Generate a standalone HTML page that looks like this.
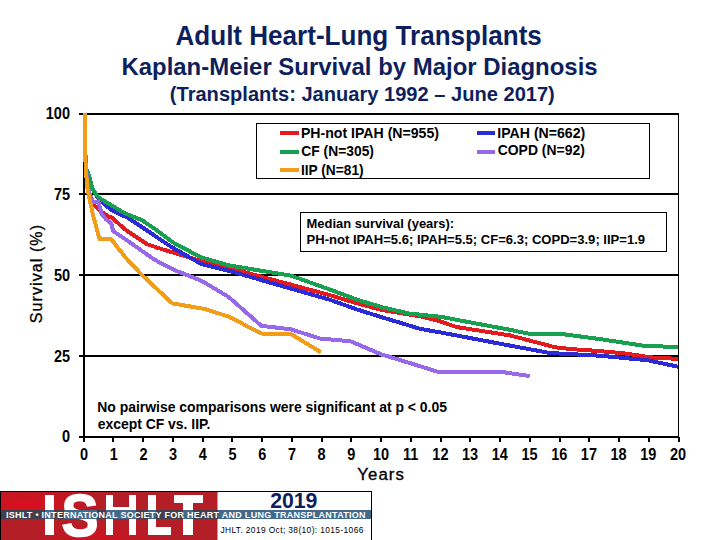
<!DOCTYPE html>
<html><head><meta charset="utf-8">
<style>
html,body{margin:0;padding:0;background:#fff;}
body{width:720px;height:540px;position:relative;overflow:hidden;font-family:"Liberation Sans",sans-serif;}
.t{position:absolute;white-space:nowrap;line-height:1;}
svg{position:absolute;left:0;top:0;font-family:"Liberation Sans",sans-serif;}
</style></head><body>
<svg width="720" height="540" viewBox="0 0 720 540">
<g fill="#000" shape-rendering="crispEdges">
<rect x="79" y="113" width="599" height="2"/>
<rect x="79" y="193" width="599" height="2"/>
<rect x="79" y="274" width="599" height="2"/>
<rect x="79" y="355" width="599" height="2"/>
<rect x="79" y="436" width="600" height="2"/>
<rect x="83" y="113" width="2" height="325"/>
<rect x="678" y="113" width="1" height="325"/>
<rect x="83" y="437" width="2" height="5"/>
<rect x="112" y="437" width="2" height="5"/>
<rect x="142" y="437" width="2" height="5"/>
<rect x="172" y="437" width="2" height="5"/>
<rect x="202" y="437" width="2" height="5"/>
<rect x="231" y="437" width="2" height="5"/>
<rect x="261" y="437" width="2" height="5"/>
<rect x="291" y="437" width="2" height="5"/>
<rect x="321" y="437" width="2" height="5"/>
<rect x="350" y="437" width="2" height="5"/>
<rect x="380" y="437" width="2" height="5"/>
<rect x="410" y="437" width="2" height="5"/>
<rect x="440" y="437" width="2" height="5"/>
<rect x="469" y="437" width="2" height="5"/>
<rect x="499" y="437" width="2" height="5"/>
<rect x="529" y="437" width="2" height="5"/>
<rect x="559" y="437" width="2" height="5"/>
<rect x="588" y="437" width="2" height="5"/>
<rect x="618" y="437" width="2" height="5"/>
<rect x="648" y="437" width="2" height="5"/>
<rect x="678" y="437" width="2" height="5"/>
</g>
<rect x="256.5" y="123.5" width="393" height="55" fill="#fff" stroke="#000" stroke-width="1"/>
<rect x="280" y="131" width="19" height="4" fill="#e41b1e"/>
<rect x="280" y="150" width="19" height="4" fill="#16a04f"/>
<rect x="280" y="168" width="19" height="4" fill="#f39c17"/>
<rect x="477" y="131" width="18" height="4" fill="#2b2bd8"/>
<rect x="477" y="150" width="18" height="4" fill="#9768ea"/>
<rect x="300.5" y="212.5" width="366" height="39" fill="#fff" stroke="#000" stroke-width="1"/>
<g shape-rendering="crispEdges">
<polyline fill="none" stroke="#e41b1e" stroke-width="4" stroke-linejoin="round" points="84.7,113.7 85.3,150.0 86.1,168.0 86.6,180.0 88.8,195.0 91.5,202.5 94.3,205.2 98.7,209.6 104.7,214.0 107.8,216.1 112.2,217.8 123.4,228.0 127.4,231.1 146.7,244.0 158.5,248.1 177.0,253.7 201.1,261.1 230.0,268.3 330.0,295.2 357.0,303.3 381.1,309.8 420.0,316.3 437.8,320.6 456.3,327.0 510.0,335.4 555.6,347.4 574.0,349.3 600.0,351.1 627.0,353.7 651.1,357.4 678.0,358.9"/>
<polyline fill="none" stroke="#2b2bd8" stroke-width="4" stroke-linejoin="round" points="84.7,113.7 85.3,150.0 86.1,168.0 89.1,176.0 91.5,186.0 94.5,193.0 98.0,197.5 102.5,202.0 110.9,209.9 127.8,217.8 142.6,227.5 160.0,239.3 173.3,248.1 201.1,263.9 230.0,271.1 330.0,299.8 357.0,309.5 381.1,317.0 420.0,328.8 441.5,332.6 510.0,345.6 550.0,353.0 600.0,355.7 647.4,360.2 678.0,366.7"/>
<polyline fill="none" stroke="#16a04f" stroke-width="4" stroke-linejoin="round" points="84.7,113.7 85.3,150.0 86.1,168.0 88.8,175.0 91.0,183.0 93.0,190.0 98.0,197.0 108.0,203.4 112.0,205.5 123.0,212.4 142.5,220.5 158.5,231.5 173.3,242.6 201.1,257.4 230.0,265.6 291.1,275.7 330.0,289.6 357.0,299.6 381.1,307.0 408.9,313.5 441.5,316.9 474.8,323.3 510.0,329.8 527.8,333.5 564.8,334.4 600.0,339.1 647.4,346.3 678.0,346.7"/>
<polyline fill="none" stroke="#9768ea" stroke-width="4" stroke-linejoin="round" points="84.7,113.7 85.3,150.0 86.1,168.0 87.3,182.0 89.0,192.0 91.5,198.0 92.5,202.2 98.5,202.2 101.7,214.0 105.6,218.9 111.1,223.3 113.3,231.1 130.8,243.0 154.5,259.7 173.3,269.6 202.0,281.0 228.9,297.2 261.3,325.8 291.1,329.4 320.0,338.5 350.6,341.3 381.1,354.3 410.0,363.1 436.9,371.5 498.9,371.5 529.6,376.1"/>
<polyline fill="none" stroke="#f39c17" stroke-width="4" stroke-linejoin="round" points="84.7,113.0 85.0,150.0 85.8,169.6 87.6,190.0 93.0,215.0 99.5,238.9 111.0,238.9 125.0,257.0 142.0,275.0 172.3,303.4 204.3,308.9 228.9,316.7 261.3,333.5 291.1,334.1 321.0,352.3"/>
</g>
<text x="0" y="0" text-anchor="end" font-size="14.5" font-weight="bold" fill="#000" transform="translate(70,119.30) scale(1,1.08)">100</text>
<text x="0" y="0" text-anchor="end" font-size="14.5" font-weight="bold" fill="#000" transform="translate(70,199.60) scale(1,1.08)">75</text>
<text x="0" y="0" text-anchor="end" font-size="14.5" font-weight="bold" fill="#000" transform="translate(70,280.60) scale(1,1.08)">50</text>
<text x="0" y="0" text-anchor="end" font-size="14.5" font-weight="bold" fill="#000" transform="translate(70,361.60) scale(1,1.08)">25</text>
<text x="0" y="0" text-anchor="end" font-size="14.5" font-weight="bold" fill="#000" transform="translate(70,442.30) scale(1,1.08)">0</text>
<text x="0" y="0" text-anchor="middle" font-size="14.5" font-weight="bold" fill="#000" transform="translate(84.00,460.0) scale(1,1.08)">0</text>
<text x="0" y="0" text-anchor="middle" font-size="14.5" font-weight="bold" fill="#000" transform="translate(113.70,460.0) scale(1,1.08)">1</text>
<text x="0" y="0" text-anchor="middle" font-size="14.5" font-weight="bold" fill="#000" transform="translate(143.40,460.0) scale(1,1.08)">2</text>
<text x="0" y="0" text-anchor="middle" font-size="14.5" font-weight="bold" fill="#000" transform="translate(173.10,460.0) scale(1,1.08)">3</text>
<text x="0" y="0" text-anchor="middle" font-size="14.5" font-weight="bold" fill="#000" transform="translate(202.80,460.0) scale(1,1.08)">4</text>
<text x="0" y="0" text-anchor="middle" font-size="14.5" font-weight="bold" fill="#000" transform="translate(232.50,460.0) scale(1,1.08)">5</text>
<text x="0" y="0" text-anchor="middle" font-size="14.5" font-weight="bold" fill="#000" transform="translate(262.20,460.0) scale(1,1.08)">6</text>
<text x="0" y="0" text-anchor="middle" font-size="14.5" font-weight="bold" fill="#000" transform="translate(291.90,460.0) scale(1,1.08)">7</text>
<text x="0" y="0" text-anchor="middle" font-size="14.5" font-weight="bold" fill="#000" transform="translate(321.60,460.0) scale(1,1.08)">8</text>
<text x="0" y="0" text-anchor="middle" font-size="14.5" font-weight="bold" fill="#000" transform="translate(351.30,460.0) scale(1,1.08)">9</text>
<text x="0" y="0" text-anchor="middle" font-size="14.5" font-weight="bold" fill="#000" transform="translate(381.00,460.0) scale(1,1.08)">10</text>
<text x="0" y="0" text-anchor="middle" font-size="14.5" font-weight="bold" fill="#000" transform="translate(410.70,460.0) scale(1,1.08)">11</text>
<text x="0" y="0" text-anchor="middle" font-size="14.5" font-weight="bold" fill="#000" transform="translate(440.40,460.0) scale(1,1.08)">12</text>
<text x="0" y="0" text-anchor="middle" font-size="14.5" font-weight="bold" fill="#000" transform="translate(470.10,460.0) scale(1,1.08)">13</text>
<text x="0" y="0" text-anchor="middle" font-size="14.5" font-weight="bold" fill="#000" transform="translate(499.80,460.0) scale(1,1.08)">14</text>
<text x="0" y="0" text-anchor="middle" font-size="14.5" font-weight="bold" fill="#000" transform="translate(529.50,460.0) scale(1,1.08)">15</text>
<text x="0" y="0" text-anchor="middle" font-size="14.5" font-weight="bold" fill="#000" transform="translate(559.20,460.0) scale(1,1.08)">16</text>
<text x="0" y="0" text-anchor="middle" font-size="14.5" font-weight="bold" fill="#000" transform="translate(588.90,460.0) scale(1,1.08)">17</text>
<text x="0" y="0" text-anchor="middle" font-size="14.5" font-weight="bold" fill="#000" transform="translate(618.60,460.0) scale(1,1.08)">18</text>
<text x="0" y="0" text-anchor="middle" font-size="14.5" font-weight="bold" fill="#000" transform="translate(648.30,460.0) scale(1,1.08)">19</text>
<text x="0" y="0" text-anchor="middle" font-size="14.5" font-weight="bold" fill="#000" transform="translate(678.00,460.0) scale(1,1.08)">20</text>
<text transform="translate(42.2,273.6) rotate(-90)" text-anchor="middle" font-size="16" letter-spacing="1.1" fill="#000" stroke="#000" stroke-width="0.3">Survival (%)</text>
</svg>
<div class="t" style="left:175.47px;top:22.59px;font-size:26.07px;letter-spacing:0.000px;font-weight:bold;color:#0d1f5c;transform:scaleY(1.028);transform-origin:0 22.16px;">Adult Heart-Lung Transplants</div>
<div class="t" style="left:121.42px;top:55.25px;font-size:23.94px;letter-spacing:0.000px;font-weight:bold;color:#0d1f5c;transform:scaleY(1.023);transform-origin:0 20.35px;">Kaplan-Meier Survival by Major Diagnosis</div>
<div class="t" style="left:169.80px;top:83.73px;font-size:20.08px;letter-spacing:0.000px;font-weight:bold;color:#0d1f5c;">(Transplants: January 1992 – June 2017)</div>
<div class="t" style="left:300.91px;top:125.61px;font-size:14.11px;letter-spacing:0.000px;font-weight:bold;color:#000;">PH-not IPAH (N=955)</div>
<div class="t" style="left:301.35px;top:144.64px;font-size:13.84px;letter-spacing:0.000px;font-weight:bold;color:#000;">CF (N=305)</div>
<div class="t" style="left:300.94px;top:163.93px;font-size:13.73px;letter-spacing:0.000px;font-weight:bold;color:#000;">IIP (N=81)</div>
<div class="t" style="left:497.31px;top:125.89px;font-size:14.12px;letter-spacing:0.000px;font-weight:bold;color:#000;">IPAH (N=662)</div>
<div class="t" style="left:497.74px;top:144.46px;font-size:13.93px;letter-spacing:0.000px;font-weight:bold;color:#000;">COPD (N=92)</div>
<div class="t" style="left:306.59px;top:217.74px;font-size:12.96px;letter-spacing:0.000px;font-weight:bold;color:#000;">Median survival (years):</div>
<div class="t" style="left:306.59px;top:232.65px;font-size:13.06px;letter-spacing:0.000px;font-weight:bold;color:#000;">PH-not IPAH=5.6; IPAH=5.5; CF=6.3; COPD=3.9; IIP=1.9</div>
<div class="t" style="left:97.22px;top:400.95px;font-size:13.95px;letter-spacing:0.000px;font-weight:bold;color:#000;">No pairwise comparisons were significant at p &lt; 0.05</div>
<div class="t" style="left:97.64px;top:417.64px;font-size:13.95px;letter-spacing:0.000px;font-weight:bold;color:#000;">except CF vs. IIP.</div>
<div class="t" style="left:357.30px;top:466.72px;font-size:16.80px;letter-spacing:1.085px;font-weight:normal;color:#000;-webkit-text-stroke:0.35px #000;">Years</div>
<svg width="720" height="540" viewBox="0 0 720 540" style="position:absolute;left:0;top:0">
<defs><radialGradient id="rg1" cx="0.12" cy="0.25" r="0.35"><stop offset="0" stop-color="#dc0e1e"/><stop offset="1" stop-color="#dc0e1e" stop-opacity="0"/></radialGradient><radialGradient id="rg2" cx="0.45" cy="0.9" r="0.3"><stop offset="0" stop-color="#cc1420"/><stop offset="1" stop-color="#cc1420" stop-opacity="0"/></radialGradient></defs>
<rect x="0.5" y="491.5" width="371" height="50" fill="#fff" stroke="#000" stroke-width="1"/>
<rect x="1" y="492" width="216.5" height="48" fill="#b41e26"/>
<rect x="1" y="492" width="216.5" height="48" fill="url(#rg1)"/>
<rect x="1" y="492" width="216.5" height="48" fill="url(#rg2)"/>
<g fill="#fff" shape-rendering="crispEdges">
<rect x="44.6" y="494.7" width="9.2" height="40"/>
<rect x="106.1" y="494.7" width="7.2" height="40"/><rect x="128.9" y="494.7" width="7.2" height="40"/><rect x="106.1" y="507.4" width="30" height="7.5"/>
<rect x="148.2" y="494.8" width="8.1" height="40"/><rect x="148.2" y="527.4" width="22.4" height="7.4"/>
<rect x="173.5" y="494.8" width="29" height="7.9"/><rect x="183.1" y="494.8" width="9.4" height="40"/>
</g>
<text x="0" y="0" font-size="59.7" font-weight="bold" fill="#fff" stroke="#fff" stroke-width="1.6" transform="translate(61.54,535.5) scale(0.927,1)">S</text>
<g shape-rendering="crispEdges"><rect x="1" y="510" width="369.6" height="9" fill="#423f4c"/>
<rect x="44.6" y="510" width="9.2" height="9" fill="#43698a"/>
<rect x="64.0" y="510" width="32.5" height="9" fill="#43698a"/>
<rect x="106.1" y="510" width="30.0" height="9" fill="#43698a"/>
<rect x="148.2" y="510" width="8.1" height="9" fill="#43698a"/>
<rect x="183.1" y="510" width="9.4" height="9" fill="#43698a"/>
<rect x="217.5" y="510" width="153.1" height="9" fill="#43698a"/>
</g>
</svg>
<div class="t" style="left:5.97px;top:511.15px;font-size:9.00px;letter-spacing:0.267px;font-weight:bold;color:#fff;">ISHLT • INTERNATIONAL SOCIETY FOR HEART AND LUNG TRANSPLANTATION</div>
<div class="t" style="left:270.16px;top:490.94px;font-size:21.25px;letter-spacing:0.000px;font-weight:bold;color:#0d1f5c;">2019</div>
<div class="t" style="left:220.43px;top:525.96px;font-size:8.40px;letter-spacing:0.383px;font-weight:normal;color:#000;">JHLT. 2019 Oct; 38(10): 1015-1066</div>
</body></html>
